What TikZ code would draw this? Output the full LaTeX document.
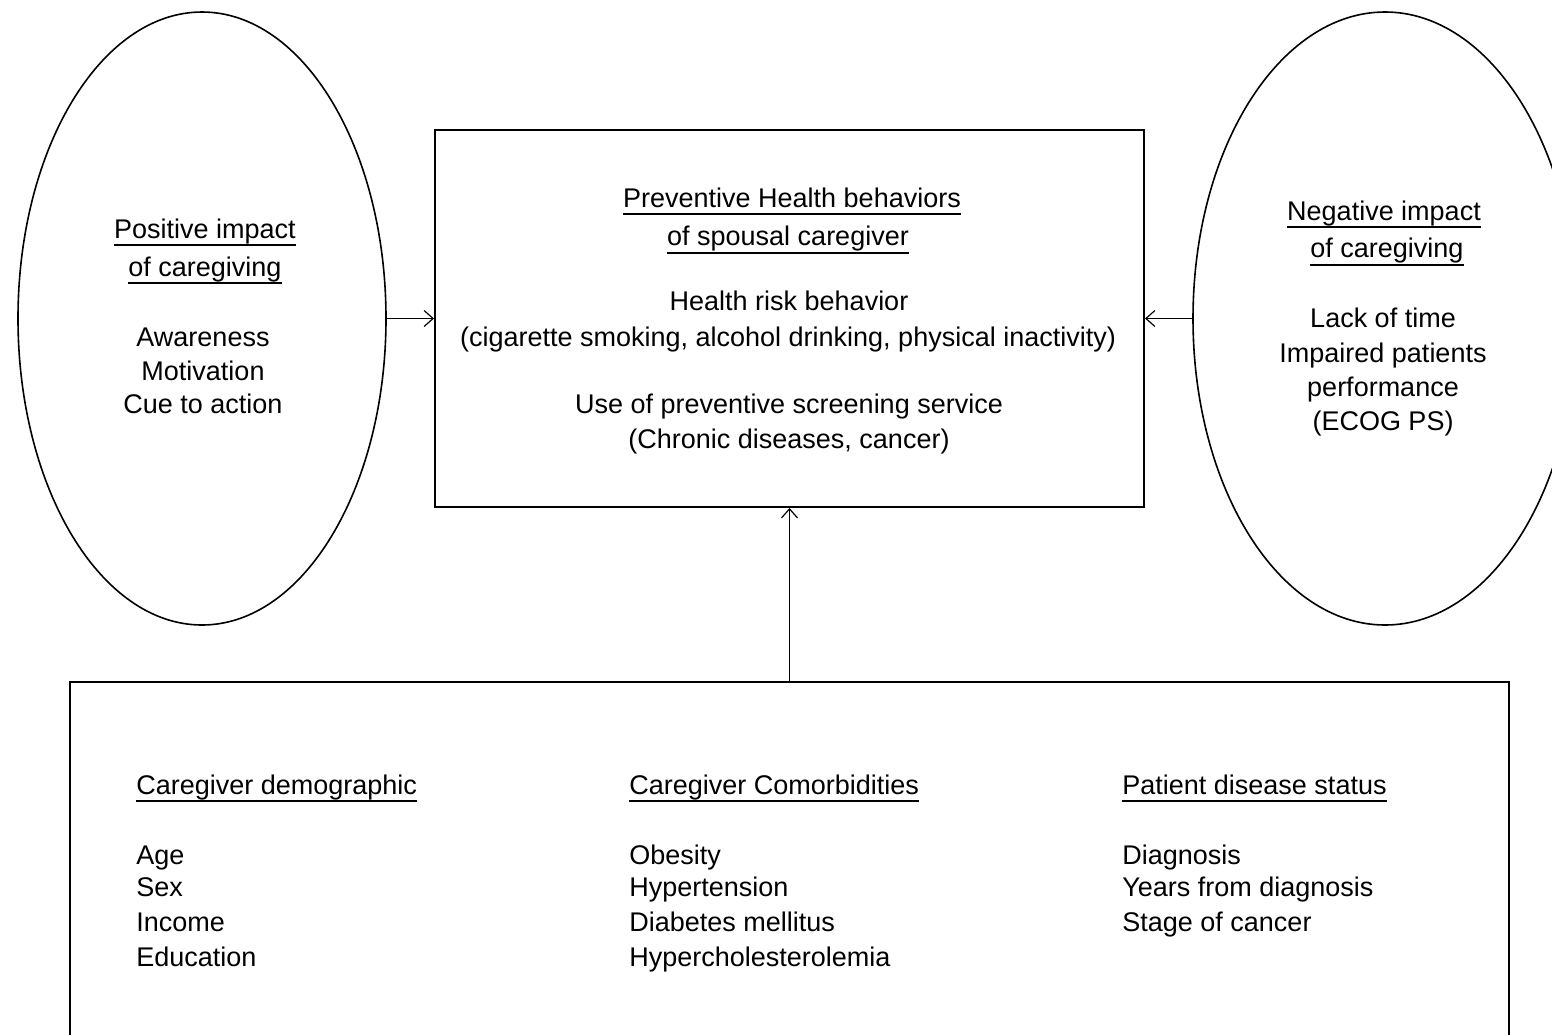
\documentclass[tikz,border=0pt]{standalone}
\usepackage{fontspec}
\setmainfont{Liberation Sans}
\usetikzlibrary{arrows.meta,shapes.geometric}
\tikzset{
  oval/.style={draw, ellipse, line width=0.8pt, inner sep=0pt},
  boxnode/.style={draw, rectangle, line width=1pt, inner sep=0pt},
  txt/.style={inner sep=0pt, anchor=base},
  ltxt/.style={inner sep=0pt, anchor=base west},
  uline/.style={line width=1pt},
  arr/.style={line width=0.6pt, -{Straight Barb[length=4.5pt,width=8pt,line width=0.6pt]}}
}
\begin{document}
\begin{tikzpicture}[x=0.5pt, y=-0.5pt, font=\fontsize{13.5}{18}\selectfont]
\clip (0,0) rectangle (1552,1034);
\fill[white] (0,0) rectangle (1552,1034);

% shapes
\node[oval, minimum width=184pt, minimum height=306.5pt] (pos) at (202,318.5) {};
\node[oval, minimum width=192pt, minimum height=306.5pt] (neg) at (1385,318.5) {};
\node[boxnode, minimum width=354.5pt, minimum height=188.5pt] (mid) at (789.5,318.5) {};
\node[boxnode, minimum width=719.5pt, minimum height=184pt] (bot) at (789.5,866) {};

% connectors
\draw[arr] (pos.east) -- (mid.west);
\draw[arr] (neg.west) -- (mid.east);
\draw[arr] (bot.north) -- (mid.south);

% left ellipse text
\node[txt] (p1) at (205,238) {Positive impact};
\node[txt] (p2) at (205,276) {of caregiving};
\draw[uline] ([yshift=-3.5pt]p1.base west) -- ([yshift=-3.5pt]p1.base east);
\draw[uline] ([yshift=-3.5pt]p2.base west) -- ([yshift=-3.5pt]p2.base east);
\node[txt] (p3) at (203,346) {Awareness};
\node[txt] (p4) at (203,380) {Motivation};
\node[txt] (p5) at (203,413) {Cue to action};

% central box text
\node[txt] (m1) at (792,207) {Preventive Health behaviors};
\node[txt] (m2) at (788,245) {of spousal caregiver};
\draw[uline] ([yshift=-3.5pt]m1.base west) -- ([yshift=-3.5pt]m1.base east);
\draw[uline] ([yshift=-4pt]m2.base west) -- ([yshift=-4pt]m2.base east);
\node[txt] (m3) at (789,310) {Health risk behavior};
\node[txt] (m4) at (788,346) {(cigarette smoking, alcohol drinking, physical inactivity)};
\node[txt] (m5) at (789,413) {Use of preventive screening service};
\node[txt] (m6) at (789,448) {(Chronic diseases, cancer)};

% right ellipse text
\node[txt] (n1) at (1384,220) {Negative impact};
\node[txt] (n2) at (1387,257) {of caregiving};
\draw[uline] ([yshift=-3.5pt]n1.base west) -- ([yshift=-3.5pt]n1.base east);
\draw[uline] ([yshift=-4pt]n2.base west) -- ([yshift=-4pt]n2.base east);
\node[txt] (n3) at (1383,327) {Lack of time};
\node[txt] (n4) at (1383,362) {Impaired patients};
\node[txt] (n5) at (1383,396) {performance};
\node[txt] (n6) at (1383,430) {(ECOG PS)};

% bottom box text
\node[ltxt] (a0) at (136,794) {Caregiver demographic};
\node[ltxt] (b0) at (629,794) {Caregiver Comorbidities};
\node[ltxt] (c0) at (1122,794) {Patient disease status};
\foreach \n in {a0,b0,c0}
  \draw[uline] ([yshift=-3.5pt]\n.base west) -- ([yshift=-3.5pt]\n.base east);

\node[ltxt] (a1) at (136,864) {Age};
\node[ltxt] (a2) at (136,896) {Sex};
\node[ltxt] (a3) at (136,931) {Income};
\node[ltxt] (a4) at (136,966) {Education};

\node[ltxt] (b1) at (629,864) {Obesity};
\node[ltxt] (b2) at (629,896) {Hypertension};
\node[ltxt] (b3) at (629,931) {Diabetes mellitus};
\node[ltxt] (b4) at (629,966) {Hypercholesterolemia};

\node[ltxt] (c1) at (1122,864) {Diagnosis};
\node[ltxt] (c2) at (1122,896) {Years from diagnosis};
\node[ltxt] (c3) at (1122,931) {Stage of cancer};
\end{tikzpicture}
\end{document}
